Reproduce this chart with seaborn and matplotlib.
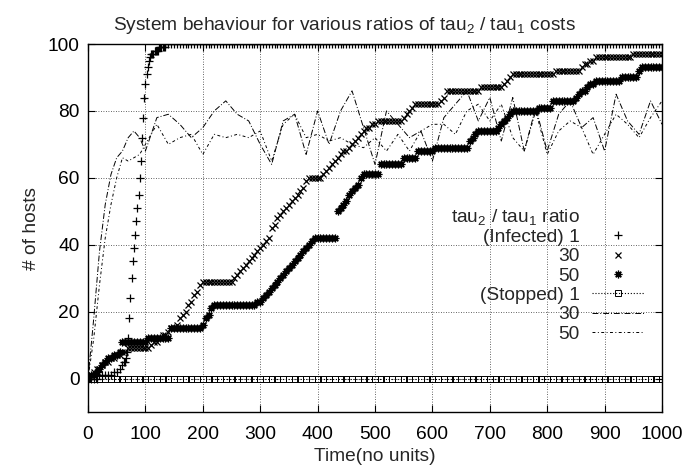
import numpy as np
import matplotlib
matplotlib.use("Agg")
import matplotlib.pyplot as plt
import seaborn as sns
from matplotlib.lines import Line2D

# ---------------- data ----------------
t_infected = list(range(0, 1001, 5))
t_infected_1 = list(range(0, 60, 5)) + list(range(60, 135, 2)) + list(range(135, 1001, 5))

infected_1 = ([0, 0, 0, 0, 1, 1, 1, 1, 1, 2, 2, 3] +
              [4, 5, 5, 6, 8, 12, 18, 24, 30, 35, 39, 43, 47, 51, 55, 60, 65, 72, 78, 84,
               88, 91, 93, 95, 96, 97, 97, 97, 98, 98, 98, 98, 99, 99, 99, 99, 99, 99] +
              [100] * 174)

infected_30 = [0, 1, 2, 3, 3, 4, 5, 5, 6, 6, 7, 7, 8, 8, 9, 9, 9, 9, 9, 9,
               9, 9, 10, 11, 11, 12, 13, 13, 14, 15, 15, 16, 18, 19, 20, 22, 23, 25, 26, 28,
               29, 29, 29, 29, 29, 29, 29, 29, 29, 29, 29, 30, 31, 32, 33, 34, 35, 36, 37, 38,
               39, 40, 41, 42, 45, 46, 48, 49, 50, 51, 52, 53, 54, 55, 56, 57, 59, 60, 60, 60,
               60, 60, 61, 62, 63, 64, 65, 66, 67, 68, 68, 69, 70, 71, 72, 73, 74, 75, 75, 76,
               76, 77, 77, 77, 77, 77, 77, 77, 77, 77, 78, 79, 80, 81, 82, 82, 82, 82, 82, 82,
               82, 82, 82, 83, 84, 86, 86, 86, 86, 86, 86, 86, 86, 86, 86, 86, 86, 87, 87, 87,
               87, 87, 87, 87, 87, 88, 89, 90, 91, 91, 91, 91, 91, 91, 91, 91, 91, 91, 91, 91,
               91, 91, 91, 92, 92, 92, 92, 92, 92, 92, 92, 92, 93, 94, 94, 95, 95, 96, 96, 96,
               96, 96, 96, 96, 96, 96, 96, 96, 96, 96, 97, 97, 97, 97, 97, 97, 97, 97, 97, 97,
               97]

infected_50 = [0, 1, 1, 2, 3, 4, 5, 6, 6, 7, 7, 8, 11, 11, 11, 11, 11, 11, 11, 11,
               11, 12, 12, 12, 12, 12, 12, 12, 12, 15, 15, 15, 15, 15, 15, 15, 15, 15, 15, 15,
               16, 18, 19, 21, 22, 22, 22, 22, 22, 22, 22, 22, 22, 22, 22, 22, 22, 22, 22, 23,
               23, 24, 25, 26, 27, 28, 29, 30, 31, 32, 33, 34, 35, 36, 37, 38, 39, 40, 41, 42,
               42, 42, 42, 42, 42, 42, 42, 50, 51, 52, 53, 55, 56, 57, 58, 60, 61, 61, 61, 61,
               61, 61, 64, 64, 64, 64, 64, 64, 64, 64, 66, 66, 66, 66, 66, 68, 68, 68, 68, 68,
               68, 69, 69, 69, 69, 69, 69, 69, 69, 69, 69, 69, 69, 71, 72, 73, 74, 74, 74, 74,
               74, 74, 74, 75, 76, 77, 78, 79, 80, 80, 80, 80, 80, 80, 80, 80, 80, 81, 81, 81,
               81, 81, 83, 83, 83, 83, 83, 83, 83, 83, 84, 85, 86, 86, 87, 88, 88, 89, 89, 89,
               89, 89, 89, 89, 89, 89, 90, 90, 90, 90, 90, 90, 92, 93, 93, 93, 93, 93, 93, 93,
               93]

t_stopped_1 = list(range(0, 1001, 10))
stopped_1 = [0] * 101

t_stopped = list(range(0, 100, 10)) + list(range(100, 1001, 20))
stopped_30 = [0, 18, 38, 52, 61, 66, 68, 72, 74, 72,
              68, 78, 79, 76, 72, 75, 80, 83, 79, 77,
              70, 64, 77, 79, 67, 80, 70, 80, 86, 75,
              64, 80, 76, 72, 74, 65, 78, 82, 86, 77,
              84, 71, 84, 68, 81, 68, 79, 83, 75, 78,
              68, 85, 77, 73, 83, 76]
stopped_50 = [0, 12, 28, 42, 52, 60, 66, 65, 66, 67,
              70, 76, 70, 72, 73, 67, 73, 72, 73, 72,
              74, 65, 76, 79, 72, 73, 71, 72, 70, 69,
              72, 68, 73, 68, 74, 76, 76, 73, 80, 82,
              77, 82, 72, 68, 80, 67, 74, 77, 75, 67,
              73, 79, 76, 72, 78, 83]

x_ticks = list(range(0, 1001, 100))
y_ticks = list(range(0, 101, 20))

# ---------------- style ----------------
sns.set_style("ticks")
plt.rcParams['font.family'] = ['Liberation Sans', 'DejaVu Sans']
plt.rcParams['mathtext.fontset'] = 'custom'
plt.rcParams['mathtext.rm'] = 'Liberation Sans'
plt.rcParams['mathtext.it'] = 'Liberation Sans:italic'
plt.rcParams['mathtext.bf'] = 'Liberation Sans:bold'

FS = 13.8
fig = plt.figure(figsize=(6.82, 4.74), dpi=100)
ax = fig.add_axes([88 / 682, 1 - 412 / 474, 574 / 682, 368 / 474])

mk = dict(color='k', linestyle='', markeredgecolor='k', markerfacecolor='k',
          markeredgewidth=0.9, estimator=None)
sns.lineplot(x=t_infected_1, y=infected_1, ax=ax, marker='+', markersize=6,
             label='(Infected) 1', **mk)
sns.lineplot(x=t_infected, y=infected_30, ax=ax, marker='x', markersize=4.8,
             label='30', **mk)
sns.lineplot(x=t_infected, y=infected_50, ax=ax, marker=(8, 2, 0), markersize=5.5,
             label='50', **mk)
sns.lineplot(x=t_stopped_1, y=stopped_1, ax=ax, color='k', marker='s', linestyle=':',
             linewidth=0.8, markersize=4, markerfacecolor='none', markeredgecolor='k',
             markeredgewidth=0.7, estimator=None, label='(Stopped) 1')
sns.lineplot(x=t_stopped, y=stopped_30, ax=ax, color='k', linewidth=0.7,
             estimator=None, label='30')
sns.lineplot(x=t_stopped, y=stopped_50, ax=ax, color='k', linewidth=0.7,
             estimator=None, label='50')
lines = ax.get_lines()
lines[4].set_dashes([6, 2, 1, 2])
lines[5].set_dashes([3, 2.5, 1, 2.5])

ax.set_xlim(0, 1000)
ax.set_ylim(-10, 100)
ax.set_xticks(x_ticks)
ax.set_yticks(y_ticks)
ax.tick_params(direction='in', top=True, right=True, length=5, width=0.8,
               labelsize=FS, colors='k')
ax.tick_params(axis='x', pad=10)
ax.tick_params(axis='y', pad=6)
ax.grid(True, linestyle=(0, (1, 2)), color='k', linewidth=0.6, alpha=0.8)
for s in ax.spines.values():
    s.set_visible(True)
    s.set_linewidth(1.0)
    s.set_color('k')

ax.set_title('System behaviour for various ratios of tau$_2$ / tau$_1$ costs',
             fontsize=FS, pad=10, x=0.446)
ax.set_xlabel('Time(no units)', fontsize=FS, labelpad=4)
ax.set_ylabel('# of hosts', fontsize=FS)
ax.yaxis.set_label_coords(-(88 - 40) / 574, 0.5)

handles, labels = ax.get_legend_handles_labels()
title_handle = Line2D([], [], linestyle='none', marker=None)
leg = ax.legend([title_handle] + handles, ['tau$_2$ / tau$_1$ ratio'] + labels,
                loc='upper right', bbox_to_anchor=(0.9686, 0.558),
                frameon=False, markerfirst=False, handlelength=2.7,
                handletextpad=0.65, labelspacing=0.1, borderpad=0,
                borderaxespad=0, fontsize=FS, numpoints=1)

fig.savefig('out.png', dpi=100)
